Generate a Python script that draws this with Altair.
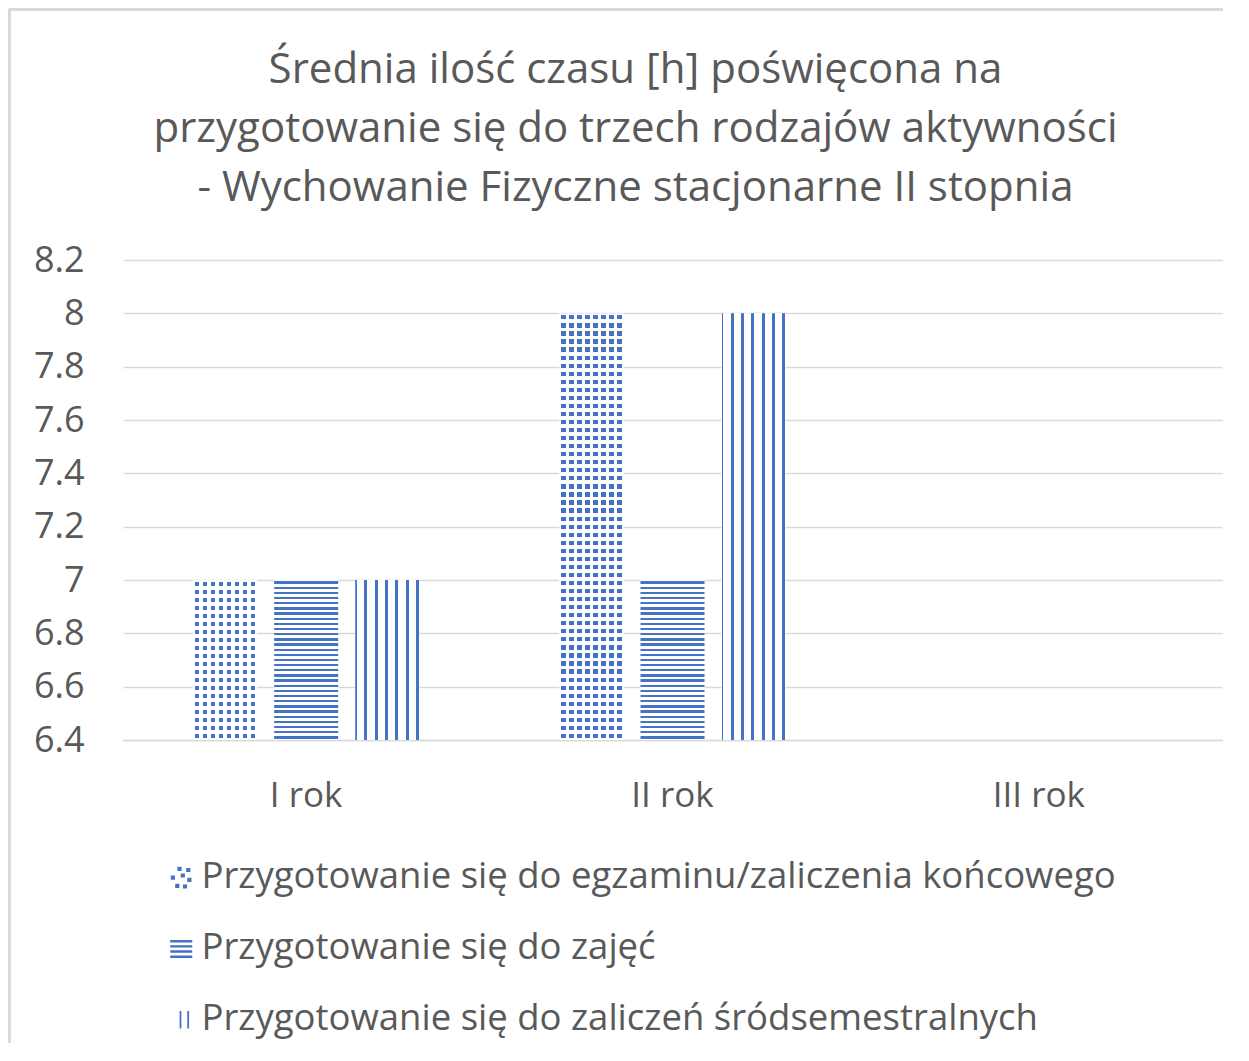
import altair as alt
import pandas as pd

# ---- data ----
years = ["I rok", "II rok", "III rok"]
series = [
    "Przygotowanie się do egzaminu/zaliczenia końcowego",
    "Przygotowanie się do zajęć",
    "Przygotowanie się do zaliczeń śródsemestralnych",
]
egzamin = [7, 8, None]
zajecia = [7, 7, None]
srodsem = [7, 8, None]
y_ticks = [6.4, 6.6, 6.8, 7.0, 7.2, 7.4, 7.6, 7.8, 8.0, 8.2]
title_lines = [
    "Średnia ilość czasu [h] poświęcona na",
    "przygotowanie się do trzech rodzajów aktywności",
    "- Wychowanie Fizyczne stacjonarne II stopnia",
]

rows = []
for s, vals in zip(series, [egzamin, zajecia, srodsem]):
    for r, v in zip(years, vals):
        rows.append({"rok": r, "seria": s, "val": v})
df = pd.DataFrame(rows)

BLUE = "#4472C4"
TXT = "#595959"
GRID = "#d9d9d9"
FONT = "Open Sans"
CLEAR = "rgba(255,255,255,0)"


def stripe_gradient(centers, width, on, off, horizontal):
    stops = []
    last = 0.0
    for c in centers:
        a = max(0.0, c - width / 2)
        b = min(1.0, c + width / 2)
        stops.append({"offset": last, "color": off})
        stops.append({"offset": a, "color": off})
        stops.append({"offset": a, "color": on})
        stops.append({"offset": b, "color": on})
        stops.append({"offset": b, "color": off})
        last = b
    stops.append({"offset": 1.0, "color": off})
    g = {"gradient": "linear", "x1": 0, "y1": 0, "x2": 0, "y2": 0, "stops": stops}
    if horizontal:
        g["x2"] = 1
    else:
        g["y2"] = 1
    return g


def regular(n, phase=0.5):
    return [(i + phase) / n for i in range(n)]


# vertical stripes (śródsemestralne)
grad_vert = stripe_gradient([0.005 + k * 0.161 for k in range(7)], 0.048, BLUE, "white", True)
# horizontal stripes (zajęcia)
grad_horiz = stripe_gradient(regular(31), 0.45 / 31, BLUE, "white", False)
# dots: vertical stripes + white horizontal stripes overlay -> grid of squares
grad_dots_cols = stripe_gradient(regular(8), 0.52 / 8, BLUE, "white", True)
grad_dots_rows_short = stripe_gradient(regular(20), 0.52 / 20, CLEAR, "white", False)
grad_dots_rows_tall = stripe_gradient(regular(53), 0.52 / 53, CLEAR, "white", False)

x_enc = alt.X("rok:N", scale=alt.Scale(domain=years, paddingInner=0, paddingOuter=0),
              axis=alt.Axis(title=None, labelAngle=0, ticks=False, domain=True,
                            domainColor=GRID, domainWidth=1.5, labelFontSize=35,
                            labelColor=TXT, labelFont=FONT, labelPadding=38, grid=False))
xo_enc = alt.XOffset("seria:N", scale=alt.Scale(domain=series, paddingInner=0.21, paddingOuter=0.865))
y_enc = alt.Y("val:Q", scale=alt.Scale(domain=[y_ticks[0], y_ticks[-1]], zero=False, nice=False),
              axis=alt.Axis(title=None, values=y_ticks, format="~g", ticks=False, domain=False,
                            grid=True, gridColor=GRID, gridWidth=1.5, labelFontSize=36,
                            labelColor=TXT, labelFont=FONT, labelPadding=39))
y2_enc = alt.Y2(datum=y_ticks[0])

base = alt.Chart(df)


def bar_layer(idx, **kw):
    return base.mark_bar(**kw).encode(
        x=x_enc, xOffset=xo_enc, y=y_enc, y2=y2_enc
    ).transform_filter(alt.datum.seria == series[idx])


bars_egz = bar_layer(0, fill=grad_dots_cols)
bars_egz_rows = base.mark_bar().encode(
    x=x_enc, xOffset=xo_enc, y=y_enc, y2=y2_enc,
    fill={"condition": {"test": "datum.rok === 'II rok'", "value": grad_dots_rows_tall},
          "value": grad_dots_rows_short},
).transform_filter(alt.datum.seria == series[0])
bars_zaj = bar_layer(1, fill=grad_horiz)
bars_srod = bar_layer(2, fill=grad_vert)

sym_dots = ("M-0.35,-0.95h0.38v0.38h-0.38z M0.45,-0.85h0.38v0.38h-0.38z "
            "M-0.05,-0.35h0.38v0.38h-0.38z M-0.95,-0.15h0.38v0.38h-0.38z "
            "M0.55,0.05h0.38v0.38h-0.38z M-0.55,0.6h0.38v0.38h-0.38z M0.15,0.65h0.38v0.38h-0.38z")
sym_horiz = ("M-1,-0.75h2v0.22h-2z M-1,-0.28h2v0.22h-2z M-1,0.19h2v0.22h-2z M-1,0.66h2v0.22h-2z")
sym_vert = "M-0.15,-0.75h0.16v1.6h-0.16z M0.55,-0.75h0.16v1.6h-0.16z"

legend_layer = base.mark_point(filled=True, opacity=0).encode(
    x=x_enc, xOffset=xo_enc, y=y_enc,
    shape=alt.Shape("seria:N", scale=alt.Scale(domain=series, range=[sym_dots, sym_horiz, sym_vert]),
                    legend=alt.Legend(title=None, orient="none", legendX=40, legendY=599,
                                      direction="vertical", labelFontSize=36.5, labelFont=FONT,
                                      labelColor=TXT, symbolSize=484, symbolFillColor=BLUE,
                                      symbolStrokeWidth=0, symbolOpacity=1, rowPadding=34,
                                      labelOffset=2, padding=0, labelLimit=1200)),
    color=alt.value(BLUE),
)

frame_top = alt.Chart(df).mark_rule(color=GRID, strokeWidth=3).encode(
    x=alt.value(-114), x2=alt.value(1100), y=alt.value(-251))
frame_left = alt.Chart(df).mark_rule(color=GRID, strokeWidth=3).encode(
    x=alt.value(-114), y=alt.value(-251), y2=alt.value(800))

chart = alt.layer(frame_top, frame_left, bars_egz, bars_egz_rows, bars_zaj, bars_srod, legend_layer).properties(
    width=1099, height=480,
    padding={"left": 115, "top": 252, "right": 19, "bottom": 303},
    autosize=alt.AutoSizeParams(type="none"),
    title=alt.Title(text=title_lines, fontSize=42, font=FONT, color=TXT, fontWeight="normal",
                    lineHeight=59, anchor="middle", dx=-37, offset=-202),
).configure(background="white").configure_view(stroke="transparent", strokeWidth=0)

chart.save("out.html", embed_options={"renderer": "svg", "actions": False})
